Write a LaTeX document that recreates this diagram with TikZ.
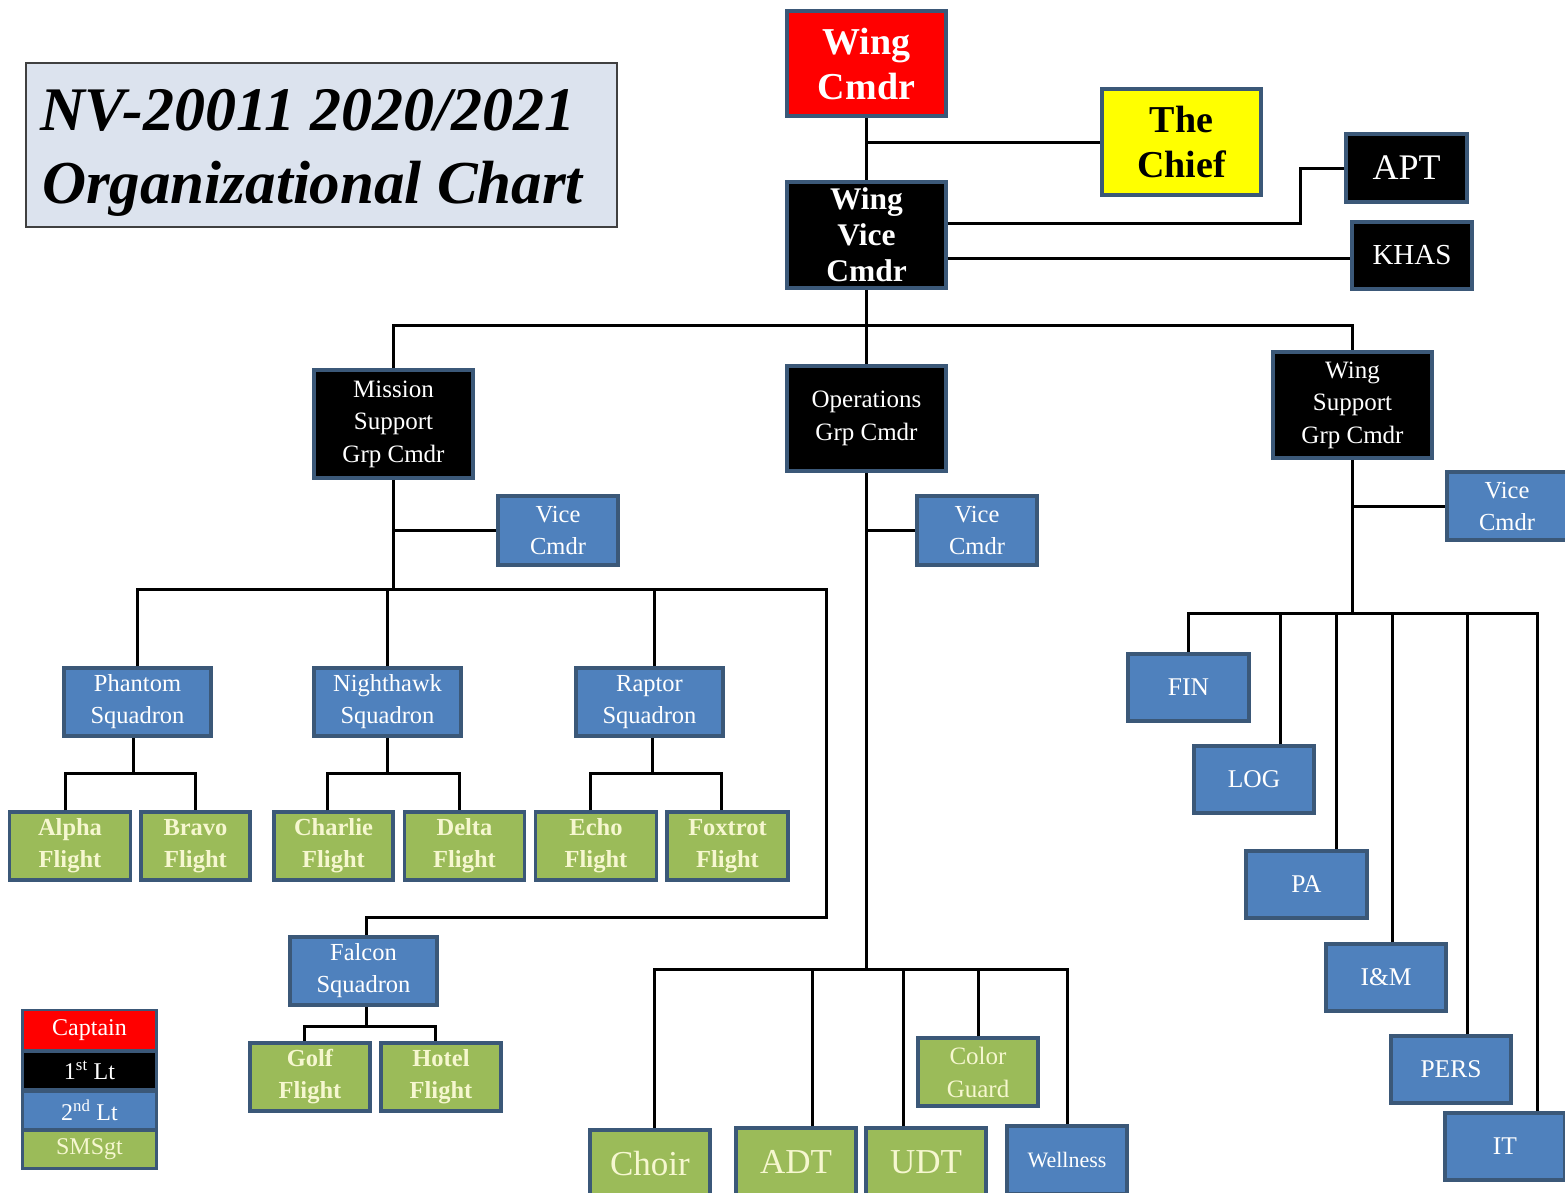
\documentclass[tikz,border=0pt]{standalone}
\usepackage{fontspec}
\setmainfont{Liberation Serif}
\usetikzlibrary{calc}
\definecolor{bordc}{HTML}{3B5878}
\definecolor{bluef}{HTML}{4F81BD}
\definecolor{greenf}{HTML}{9BBB59}
\definecolor{creamt}{HTML}{F6F7D0}
\definecolor{titlef}{HTML}{DCE3EE}
\definecolor{redf}{HTML}{FF0000}
\definecolor{yelf}{HTML}{FFFF00}
\tikzset{
  bx/.style={draw=bordc, line width=3.5pt, inner sep=0pt, align=center, minimum width=120, minimum height=68},
  bluebx/.style={bx, fill=bluef, text=white, font=\fontsize{24.5}{32}\selectfont},
  greenbx/.style={bx, fill=greenf, text=creamt, font=\bfseries\fontsize{24.5}{32}\selectfont},
  blackbx/.style={bx, fill=black, text=white, font=\fontsize{25}{32.5}\selectfont},
  bigbx/.style={minimum width=159, minimum height=106},
  sqbx/.style={bluebx, minimum width=147},
  ln/.style={line width=3pt, black},
  legbx/.style={inner sep=0pt, minimum width=131, font=\fontsize{24}{28}\selectfont},
}
\begin{document}
\begin{tikzpicture}[x=1pt,y=-1pt]
\useasboundingbox (0,0) rectangle (1565,1192);
\fill[white] (0,0) rectangle (1565,1192);
\clip (0,0) rectangle (1565,1192);

% title
\node[draw=black!75, line width=1.2pt, fill=titlef, minimum width=591, minimum height=164, inner sep=0pt] (title) at (321.5,145) {};
\node[anchor=base west, inner sep=0pt, font=\bfseries\itshape\fontsize{62}{62}\selectfont] (t1) at (40,130) {NV-20011 2020/2021};
\node[anchor=base west, inner sep=0pt, font=\bfseries\itshape\fontsize{61}{61}\selectfont] (t2) at (42,203) {Organizational Chart};

% top
\node[bx, bigbx, fill=redf, text=white, font=\bfseries\fontsize{38}{45}\selectfont, minimum height=105] (wc) at (866.5,63.5) {Wing\\Cmdr};
\node[bx, bigbx, fill=yelf, text=black, font=\bfseries\fontsize{38}{45}\selectfont] (chief) at (1181.5,142) {The\\Chief};
\node[bx, bigbx, fill=black, text=white, font=\bfseries\fontsize{31.5}{36}\selectfont] (wvc) at (866.5,235) {Wing\\Vice\\Cmdr};
\node[bx, fill=black, text=white, font=\fontsize{36}{40}\selectfont, minimum width=121] (apt) at (1406.5,168) {APT};
\node[bx, fill=black, text=white, font=\fontsize{29}{32}\selectfont, minimum height=67] (khas) at (1412,255.5) {KHAS};

% group commanders
\node[blackbx, bigbx, minimum height=108] (msg) at (393.5,424) {Mission\\Support\\Grp Cmdr};
\node[blackbx, bigbx, minimum height=105] (ops) at (866.5,418.5) {Operations\\Grp Cmdr};
\node[blackbx, bigbx] (wsg) at (1352.5,405) {Wing\\Support\\Grp Cmdr};

\node[bluebx, minimum height=69] (msvc) at (558,530.5) {Vice\\Cmdr};
\node[bluebx, minimum height=69] (opvc) at (977,530.5) {Vice\\Cmdr};
\node[bluebx] (wsvc) at (1507,506) {Vice\\Cmdr};

% squadrons
\node[sqbx] (phantom) at (137.5,702) {Phantom\\Squadron};
\node[sqbx] (nighthawk) at (387.5,702) {Nighthawk\\Squadron};
\node[sqbx] (raptor) at (649.5,702) {Raptor\\Squadron};
\node[sqbx] (falcon) at (363.5,971) {Falcon\\Squadron};

% flights
\node[greenbx, minimum width=121] (alpha) at (70,846) {Alpha\\Flight};
\node[greenbx, minimum width=109] (bravo) at (195.5,846) {Bravo\\Flight};
\node[greenbx, minimum width=119] (charlie) at (333.5,846) {Charlie\\Flight};
\node[greenbx] (delta) at (464.5,846) {Delta\\Flight};
\node[greenbx, minimum width=121] (echo) at (596,846) {Echo\\Flight};
\node[greenbx, minimum width=121] (foxtrot) at (727.5,846) {Foxtrot\\Flight};
\node[greenbx] (golf) at (310,1077) {Golf\\Flight};
\node[greenbx] (hotel) at (441,1077) {Hotel\\Flight};

% operations units
\node[bx, fill=greenf, text=creamt, font=\fontsize{35}{40}\selectfont] (choir) at (650,1164) {Choir};
\node[bx, fill=greenf, text=creamt, font=\fontsize{35}{40}\selectfont] (adt) at (796,1162) {ADT};
\node[bx, fill=greenf, text=creamt, font=\fontsize{35}{40}\selectfont] (udt) at (926,1162) {UDT};
\node[bx, fill=greenf, text=creamt, font=\fontsize{25}{33}\selectfont] (cg) at (978,1072) {Color\\Guard};
\node[bx, fill=bluef, text=white, font=\fontsize{22}{26}\selectfont] (well) at (1067,1160) {Wellness};

% wing support units
\node[bluebx, minimum width=121, minimum height=67, font=\fontsize{25.5}{30}\selectfont] (fin) at (1188.5,687.5) {FIN};
\node[bluebx, minimum height=67, font=\fontsize{25.5}{30}\selectfont] (log) at (1254,779.5) {LOG};
\node[bluebx, minimum width=121, minimum height=67, font=\fontsize{25.5}{30}\selectfont] (pa) at (1306.5,884.5) {PA};
\node[bluebx, minimum height=67, font=\fontsize{25.5}{30}\selectfont] (im) at (1386,977.5) {I\&M};
\node[bluebx, minimum height=67, font=\fontsize{25.5}{30}\selectfont] (pers) at (1451,1069.5) {PERS};
\node[bluebx, minimum height=67, font=\fontsize{25.5}{30}\selectfont] (it) at (1505,1146.5) {IT};

% legend
\node[fill=bordc, inner sep=0pt, minimum width=137, minimum height=161] (leg) at (89.5,1089.5) {};
\node[legbx, fill=redf, text=white, minimum height=38] (lcap) at (89.5,1030) {Captain};
\node[legbx, fill=black, text=white, minimum height=35] (l1) at (89.5,1070.5) {1\textsuperscript{st} Lt};
\node[legbx, fill=bluef, text=white, minimum height=35] (l2) at (89.5,1110.5) {2\textsuperscript{nd} Lt};
\node[legbx, fill=greenf, text=creamt, minimum height=35] (l3) at (89.5,1149.5) {SMSgt};

% ---- connectors ----
\coordinate (aptj) at (1300,223);
\coordinate (bus) at (866.5,325);
\coordinate (msbus) at (393.5,589);
\coordinate (msr) at (826,589);
\coordinate (msb) at (826,917);
\coordinate (opbus) at (866.5,969);
\coordinate (wsbus) at (1352.5,613);

\draw[ln] (wc.south) -- (wvc.north);
\draw[ln] (wc.south |- chief.west) -- (chief.west);
\draw[ln] (wvc.east |- aptj) -- (aptj) |- (apt.west);
\draw[ln] ($(wvc.east)+(0,23)$) -- (khas.west |- {$(wvc.east)+(0,23)$});
\draw[ln] (wvc.south) -- (bus);
\draw[ln] (msg.north) -- (msg.north |- bus) -- (wsg.north |- bus) -- (wsg.north);
\draw[ln] (bus) -- (ops.north);

% mission support
\draw[ln] (msg.south) -- (msbus);
\draw[ln] (msg.south |- msvc.west) -- (msvc.west);
\draw[ln] (phantom.north) -- (phantom.north |- msbus) -- (msr) -- (msb) -| ([xshift=3]falcon.north);
\draw[ln] (nighthawk.north) -- (nighthawk.north |- msbus);
\draw[ln] ([xshift=5]raptor.north) -- ([xshift=5]raptor.north |- msbus);

\draw[ln] ([xshift=-4]phantom.south) -- ([xshift=-4]phantom.south |- 0,773);
\draw[ln] ([xshift=-5]alpha.north) -- ([xshift=-5]alpha.north |- 0,773) -- (bravo.north |- 0,773) -- (bravo.north);
\draw[ln] (nighthawk.south) -- (nighthawk.south |- 0,773);
\draw[ln] ([xshift=-6]charlie.north) -- ([xshift=-6]charlie.north |- 0,773) -- ([xshift=-5]delta.north |- 0,773) -- ([xshift=-5]delta.north);
\draw[ln] ([xshift=3]raptor.south) -- ([xshift=3]raptor.south |- 0,773);
\draw[ln] ([xshift=-6]echo.north) -- ([xshift=-6]echo.north |- 0,773) -- ([xshift=-6]foxtrot.north |- 0,773) -- ([xshift=-6]foxtrot.north);
\draw[ln] ([xshift=3]falcon.south) -- ([xshift=3]falcon.south |- 0,1026);
\draw[ln] ([xshift=-6]golf.north) -- ([xshift=-6]golf.north |- 0,1026) -- ([xshift=-6]hotel.north |- 0,1026) -- ([xshift=-6]hotel.north);

% operations
\draw[ln] (ops.south) -- (opbus);
\draw[ln] (ops.south |- opvc.west) -- (opvc.west);
\draw[ln] ([xshift=4]choir.north) -- ([xshift=4]choir.north |- opbus) -- (well.north |- opbus) -- (well.north);
\draw[ln] ([xshift=16]adt.north) -- ([xshift=16]adt.north |- opbus);
\draw[ln] ([xshift=-23]udt.north) -- ([xshift=-23]udt.north |- opbus);
\draw[ln] (cg.north) -- (cg.north |- opbus);

% wing support
\draw[ln] (wsg.south) -- (wsbus);
\draw[ln] (wsg.south |- wsvc.west) -- (wsvc.west);
\draw[ln] (fin.north) -- (fin.north |- wsbus) -- ([xshift=32]it.north |- wsbus) -- ([xshift=32]it.north);
\draw[ln] ([xshift=26]log.north) -- ([xshift=26]log.north |- wsbus);
\draw[ln] ([xshift=29.5]pa.north) -- ([xshift=29.5]pa.north |- wsbus);
\draw[ln] ([xshift=6]im.north) -- ([xshift=6]im.north |- wsbus);
\draw[ln] ([xshift=16]pers.north) -- ([xshift=16]pers.north |- wsbus);
\end{tikzpicture}
\end{document}
